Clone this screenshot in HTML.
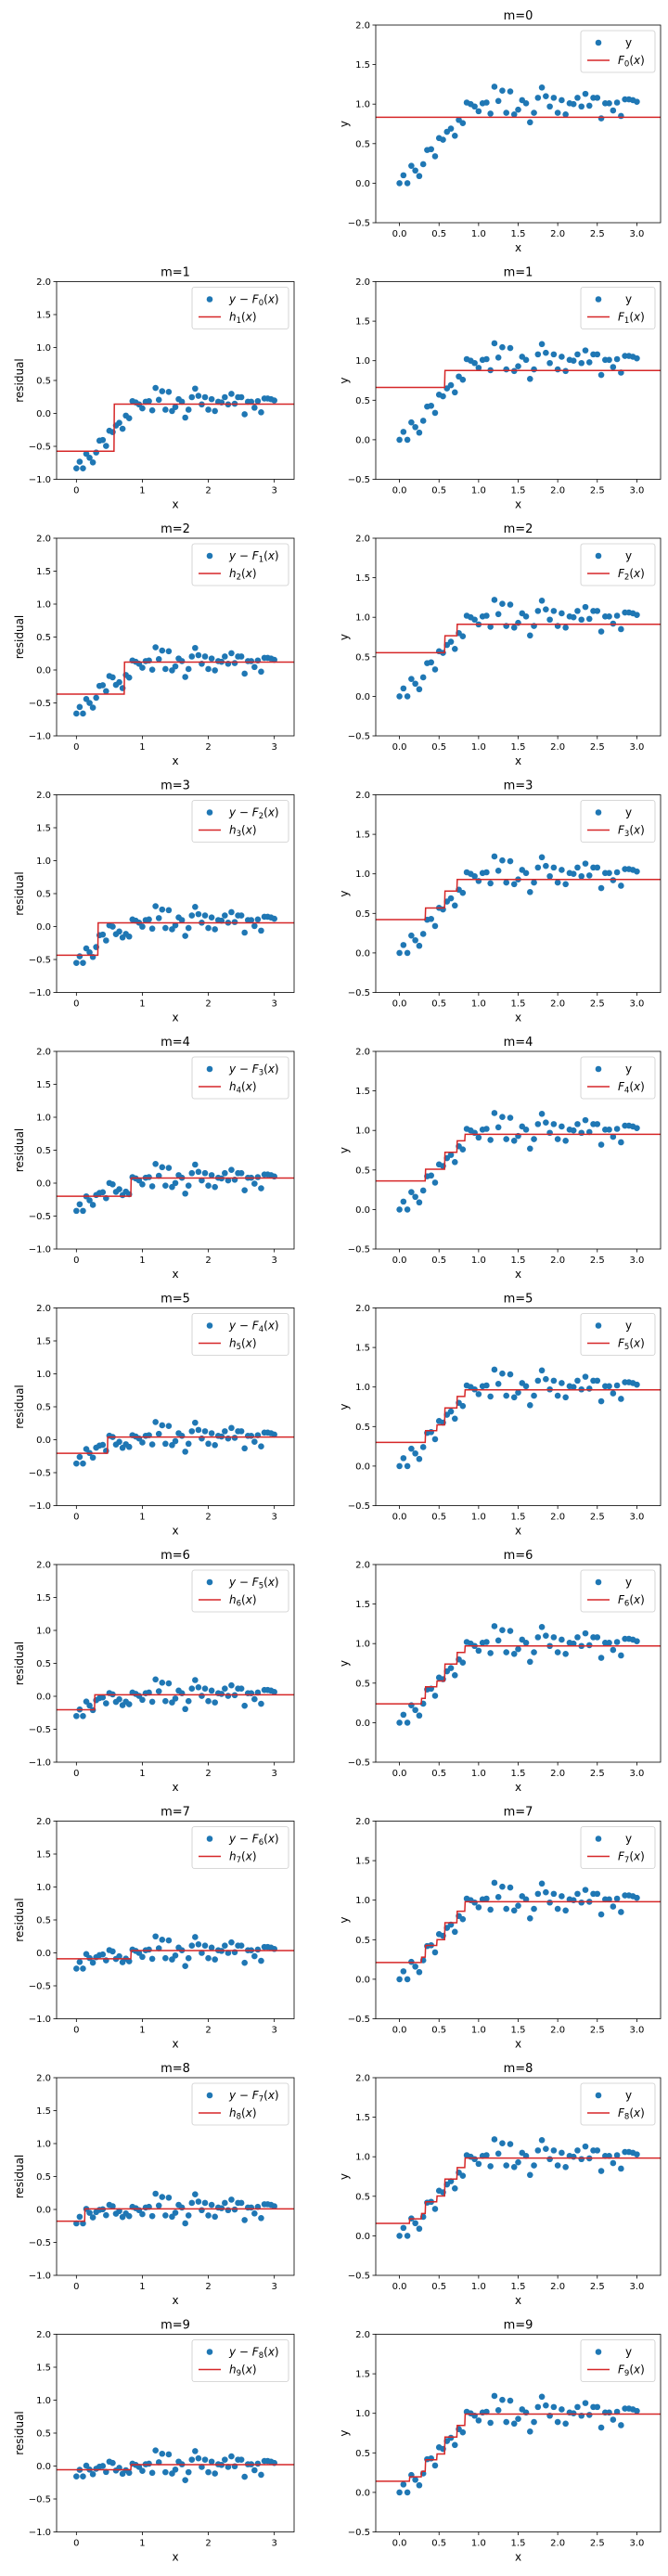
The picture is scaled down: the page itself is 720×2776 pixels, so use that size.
<!DOCTYPE html>
<html><head><meta charset="utf-8">
<style>
html,body{margin:0;padding:0;background:#fff;}
svg{display:block;font-family:"DejaVu Sans","Liberation Sans",sans-serif;}
</style></head>
<body>
<svg id="chart" width="720" height="2776" viewBox="0 0 720 2776" xmlns="http://www.w3.org/2000/svg"></svg>
<script>
// ---- data ----
const xValues = [];
for (let i = 0; i <= 60; i++) xValues.push(+(i * 0.05).toFixed(2));
const yValues = [0.00,0.10,0.00,0.22,0.16,0.09,0.24,0.42,0.43,0.34,0.57,0.55,0.65,0.69,0.60,0.80,0.76,
1.02,1.00,0.97,0.91,1.01,1.02,0.88,1.22,1.04,1.17,0.89,1.16,0.87,0.93,1.05,1.01,0.77,0.89,1.08,1.21,1.10,
0.97,1.08,0.89,1.05,0.87,1.01,1.00,1.08,0.97,1.13,0.98,1.08,1.08,0.82,1.01,1.01,0.92,1.02,0.85,1.06,1.06,1.05,1.03];
const learningRate = 0.3;
const numStages = 10;
const leftYTicks = [-1.0,-0.5,0.0,0.5,1.0,1.5,2.0];
const leftXTicks = [0,1,2,3];
const rightYTicks = [-0.5,0.0,0.5,1.0,1.5,2.0];
const rightXTicks = [0.0,0.5,1.0,1.5,2.0,2.5,3.0];

const NS = "http://www.w3.org/2000/svg";
const svg = document.getElementById('chart');
function mk(tag, attrs, parent) {
  const e = document.createElementNS(NS, tag);
  for (const k in attrs) e.setAttribute(k, attrs[k]);
  (parent || svg).appendChild(e);
  return e;
}

// stump fitting
function fitStump(xs, r) {
  let best = null;
  for (let i = 1; i < xs.length; i++) {
    const L = r.slice(0, i), R = r.slice(i);
    const ml = L.reduce((a,b)=>a+b,0)/L.length, mr = R.reduce((a,b)=>a+b,0)/R.length;
    let sse = 0; L.forEach(v=>sse+=(v-ml)**2); R.forEach(v=>sse+=(v-mr)**2);
    if (!best || sse < best.sse) best = {sse, t:(xs[i-1]+xs[i])/2, l:ml, r:mr};
  }
  return best;
}

// boosting
const F0 = yValues.reduce((a,b)=>a+b,0)/yValues.length;
const stumps = [];
let preds = xValues.map(()=>F0);
const residualsPerStage = [];
const predFns = [ (x)=>F0 ];
for (let m = 1; m < numStages; m++) {
  const res = yValues.map((y,i)=>y-preds[i]);
  residualsPerStage[m] = res;
  const s = fitStump(xValues, res);
  stumps[m] = s;
  const prev = predFns[m-1];
  predFns[m] = (x)=>prev(x) + learningRate*(x < s.t ? s.l : s.r);
  preds = xValues.map(x=>predFns[m](x));
}

const rowTop = r => 27 + 276.5*r;
const AX_H = 213;
const XMIN = -0.3, XMAX = 3.3;

function drawPanel(opts) {
  const {left, width, top, ymin, ymax, yticks, xticks, xfmt, ylabel, title, pts, fn, legendA, legendB, name} = opts;
  const g = mk('g', {});
  
  
  const sx = x => left + (x - XMIN)/(XMAX - XMIN)*width;
  const sy = y => top + AX_H - (y - ymin)/(ymax - ymin)*AX_H;
  const clip = 'c' + name;
  const cp = mk('clipPath', {id: clip}, g);
  mk('rect', {x:left, y:top, width:width, height:AX_H}, cp);
  // title
  const t = mk('text', {x:left+width/2, y:top-6, 'text-anchor':'middle', 'font-size':13}, g);
  t.textContent = title;
  
  
  // ticks
  yticks.forEach(v => {
    const y = sy(v);
    mk('line', {x1:left-3.5, x2:left, y1:y, y2:y, stroke:'#000', 'stroke-width':0.8}, g);
    const tl = mk('text', {x:left-6, y:y+3.5, 'text-anchor':'end', 'font-size':10}, g);
    tl.textContent = (v<0?'\u2212':'') + Math.abs(v).toFixed(1);
    
    
  });
  xticks.forEach(v => {
    const x = sx(v);
    mk('line', {x1:x, x2:x, y1:top+AX_H, y2:top+AX_H+3.5, stroke:'#000', 'stroke-width':0.8}, g);
    const tl = mk('text', {x:x, y:top+AX_H+15, 'text-anchor':'middle', 'font-size':10}, g);
    tl.textContent = xfmt(v);
    
    
  });
  const xl = mk('text', {x:left+width/2, y:top+AX_H+31, 'text-anchor':'middle', 'font-size':12}, g);
  xl.textContent = 'x';
  
  
  const lx = left - (ylabel === 'y' ? 30 : 36);
  const yl = mk('text', {x:lx, y:top+AX_H/2, 'text-anchor':'middle', 'font-size':12, transform:`rotate(-90 ${lx} ${top+AX_H/2})`}, g);
  yl.textContent = ylabel;
  
  
  // points
  const pg = mk('g', {'clip-path':`url(#${clip})`}, g);
  pts.forEach((v,i) => {
    const c = mk('circle', {cx:sx(xValues[i]), cy:sy(v), r:3.3, fill:'#1f77b4'}, pg);
    
    
  });
  // step line
  let d = '';
  const N = 720;
  for (let k = 0; k <= N; k++) {
    const x = XMIN + (XMAX-XMIN)*k/N;
    d += (k?'L':'M') + sx(x).toFixed(2) + ' ' + sy(fn(x)).toFixed(2);
  }
  const ln = mk('path', {d, fill:'none', stroke:'#d62728', 'stroke-width':1.5}, pg);
  
  
  // frame
  mk('rect', {x:left, y:top, width:width, height:AX_H, fill:'none', stroke:'#000', 'stroke-width':0.8}, g);
  // legend
  const lw = opts.legW, lh = 45;
  const lxp = left + width - lw - 6, lyp = top + 6;
  const lg = mk('g', {}, g);
  
  
  mk('rect', {x:lxp, y:lyp, width:lw, height:lh, rx:2.5, fill:'#fff', 'fill-opacity':0.85, stroke:'#ccc', 'stroke-width':0.8}, lg);
  mk('circle', {cx:lxp+19, cy:lyp+13, r:3.3, fill:'#1f77b4'}, lg);
  mk('line', {x1:lxp+7, x2:lxp+31, y1:lyp+32, y2:lyp+32, stroke:'#d62728', 'stroke-width':1.5}, lg);
  const t1 = mk('text', {x:lxp+40, y:lyp+17, 'font-size':12}, lg);
  t1.innerHTML = legendA;
  const t2 = mk('text', {x:lxp+40, y:lyp+36, 'font-size':12}, lg);
  t2.innerHTML = legendB;
}

const sub = (s) => `<tspan font-size="8.5" dy="2.5" font-style="normal">${s}</tspan><tspan dy="-2.5">(</tspan><tspan font-style="italic">x</tspan>)`;

for (let m = 0; m < numStages; m++) {
  const top = rowTop(m);
  if (m > 0) {
    drawPanel({
      name:'residual-panel-m'+m, left:61, width:256, top, ymin:-1, ymax:2,
      yticks:leftYTicks, xticks:leftXTicks, xfmt:v=>String(v), ylabel:'residual',
      title:'m='+m, pts:residualsPerStage[m],
      fn:(x)=>x < stumps[m].t ? stumps[m].l : stumps[m].r,
      legW:104,
      legendA:`<tspan font-style="italic">y</tspan> \u2212 <tspan font-style="italic">F</tspan>${sub(m-1)}`,
      legendB:`<tspan font-style="italic">h</tspan>${sub(m)}`
    });
  }
  drawPanel({
    name:'fit-panel-m'+m, left:405, width:307, top, ymin:-0.5, ymax:2,
    yticks:rightYTicks, xticks:rightXTicks, xfmt:v=>v.toFixed(1), ylabel:'y',
    title:'m='+m, pts:yValues, fn:predFns[m],
    legW:80,
    legendA:`<tspan dx="8">y</tspan>`,
    legendB:`<tspan font-style="italic">F</tspan>${sub(m)}`
  });
}
</script>
</body></html>
